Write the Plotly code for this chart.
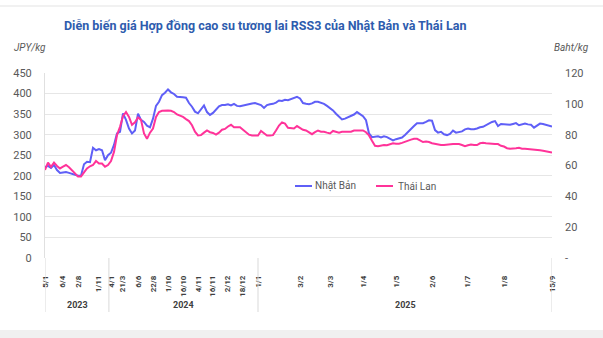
import plotly.graph_objects as go

# Session-by-session prices (one value per plotted session)
japan_jpy = [
    221, 224, 219, 226, 214, 207, 208, 209, 207, 205, 203, 200, 200, 228, 234, 233, 268, 262, 265, 262,
    238, 250, 256, 275, 303, 307, 352, 336, 315, 303, 310, 351, 336, 331, 322, 318, 339, 370, 380, 396,
    402, 410, 403, 399, 392, 392, 391, 390, 377, 368, 356, 352, 362, 371, 355, 348, 353, 362, 369, 372,
    372, 374, 371, 375, 370, 369, 371, 373, 374, 376, 377, 374, 372, 365, 372, 374, 375, 378, 383, 382,
    385, 384, 387, 391, 392, 388, 377, 375, 374, 376, 380, 380, 378, 375, 370, 365, 359, 351, 345, 337,
    339, 342, 345, 349, 355, 351, 345, 335, 303, 294, 295, 296, 293, 296, 294, 289, 286, 289, 291, 293,
    299, 307, 313, 321, 328, 328, 328, 331, 335, 334, 311, 305, 307, 301, 299, 302, 310, 305, 306, 308,
    313, 315, 313, 313, 315, 318, 319, 323, 328, 331, 333, 321, 326, 325, 325, 324, 326, 328, 323, 325,
    327, 325, 324, 317, 322, 327, 326, 324, 322, 320,
]
thai_baht = [
    57.1, 61.9, 59.2, 61.9, 59.7, 58.1, 59.2, 60.3, 58.9, 57.1, 54.9, 52.8, 52.8, 55.5, 58.1, 59.5, 60.3, 62.9, 61.3, 61.3,
    59.2, 60.3, 62.9, 68.8, 79.7, 85.1, 92.0, 94.7, 91.5, 86.4, 88.0, 91.2, 89.6, 80.8, 77.3, 81.3, 84.0, 91.5, 94.7, 95.5,
    95.7, 95.7, 95.5, 94.7, 93.1, 92.3, 91.5, 90.1, 88.8, 86.1, 81.9, 79.5, 79.7, 81.3, 82.7, 81.6, 81.1, 80.0, 81.3, 83.2,
    83.7, 85.3, 86.4, 84.8, 84.8, 84.8, 83.2, 81.6, 80.0, 79.5, 79.7, 79.5, 82.4, 81.1, 79.5, 79.5, 79.7, 82.7, 85.9, 88.0,
    87.2, 84.5, 84.0, 84.0, 85.6, 84.5, 83.2, 82.7, 81.6, 80.3, 81.6, 82.7, 81.9, 81.9, 81.3, 80.8, 82.4, 81.9, 81.3, 81.9,
    81.9, 81.9, 81.9, 82.7, 82.7, 82.9, 82.7, 81.6, 79.5, 76.0, 72.8, 72.5, 72.8, 73.3, 73.1, 73.6, 74.4, 74.1, 74.1, 74.7,
    75.5, 76.5, 76.8, 77.3, 77.3, 76.3, 75.2, 75.5, 75.2, 74.4, 73.9, 73.3, 73.3, 73.3, 73.6, 73.6, 73.9, 73.9, 73.9, 73.3,
    72.5, 73.1, 73.6, 73.3, 73.3, 74.4, 74.7, 74.4, 74.1, 74.1, 73.9, 73.9, 72.8, 72.3, 71.2, 70.9, 70.9, 71.2, 71.5, 70.9,
    70.9, 70.7, 70.7, 70.7, 70.1, 69.9, 69.6, 69.3, 68.8, 68.5,
]

# Date labels and the session they fall on
tick_sessions = [0.3, 5.7, 11, 17.7, 22, 25.7, 31, 36, 41, 46, 51, 55.7, 60.7, 65.7, 71.3,
                 85, 95.3, 106.3, 117.3, 129.3, 140.7, 153.3, 169]
tick_labels = ["5/1", "6/4", "2/8", "1/11", "4/1", "21/3", "6/6", "22/8", "1/10", "16/10", "4/11",
               "16/11", "2/12", "18/12", "1/1", "3/2", "3/3", "1/4", "1/5", "2/6", "1/7", "1/8", "15/9"]

# Year groups: boundaries and label centres
year_labels = ["2023", "2024", "2025"]
year_centres = [10.7, 46, 120]
year_bounds = [0, 21.3, 71, 169]

left_ticks = list(range(0, 451, 50))
right_ticks = list(range(0, 121, 20))
right_ticktext = ["-"] + [str(v) for v in right_ticks[1:]]

BLUE = "#5f5ff7"
PINK = "#ff3399"
GRAY = "#595959"
FONT = "Roboto"

x_jp = list(range(len(japan_jpy)))
x_th = list(range(len(thai_baht)))

fig = go.Figure()
fig.add_trace(go.Scatter(x=x_jp, y=japan_jpy, mode="lines", name="Nhật Bản",
                         line=dict(color=BLUE, width=2), yaxis="y"))
fig.add_trace(go.Scatter(x=x_th, y=thai_baht, mode="lines", name="Thái Lan",
                         line=dict(color=PINK, width=2), yaxis="y2"))

W, H = 603, 338
ML, MR, MT, MB = 45, 51, 73, 80
pw, ph = W - ML - MR, H - MT - MB


def px_x(px):
    return (px - ML) / pw


def px_y(py):
    return 1 - (py - MT) / ph


shapes = []
# year group separators below the axis
for b in year_bounds:
    shapes.append(dict(type="line", xref="x", yref="paper", x0=b, x1=b,
                       y0=0, y1=px_y(312), line=dict(color="#d9d9d9", width=1)))
# custom legend swatches
for x0, col in [(295, BLUE), (376, PINK)]:
    shapes.append(dict(type="line", xref="paper", yref="paper", x0=px_x(x0), x1=px_x(x0 + 17),
                       y0=px_y(186), y1=px_y(186), line=dict(color=col, width=2)))
# frame details: top rule and bottom band
shapes.append(dict(type="line", xref="paper", yref="paper", x0=px_x(0), x1=px_x(W),
                   y0=px_y(6), y1=px_y(6), line=dict(color="#e3e3e3", width=1)))
shapes.append(dict(type="rect", xref="paper", yref="paper", x0=px_x(0), x1=px_x(W),
                   y0=px_y(330), y1=px_y(H), line=dict(width=0), fillcolor="#f0f0f0", layer="below"))

annotations = []
for lab, c in zip(year_labels, year_centres):
    annotations.append(dict(text=lab, x=c, xref="x", y=px_y(305), yref="paper", showarrow=False,
                            font=dict(family=FONT, size=9, color="#404040", weight="bold"),
                            xanchor="center", yanchor="middle"))
for txt, x0 in [("Nhật Bản", 313), ("Thái Lan", 396)]:
    annotations.append(dict(text=txt, x=px_x(x0), xref="paper", y=px_y(186), yref="paper",
                            showarrow=False, xanchor="left", yanchor="middle",
                            font=dict(family=FONT, size=10, color=GRAY)))
annotations.append(dict(text="<i>JPY/kg</i>", x=px_x(12), xref="paper", y=px_y(47), yref="paper",
                        showarrow=False, xanchor="left", yanchor="middle",
                        font=dict(family=FONT, size=10, color=GRAY)))
annotations.append(dict(text="<i>Baht/kg</i>", x=px_x(552), xref="paper", y=px_y(47), yref="paper",
                        showarrow=False, xanchor="left", yanchor="middle",
                        font=dict(family=FONT, size=10, color=GRAY)))
annotations.append(dict(text="<b>Diễn biến giá Hợp đồng cao su tương lai RSS3 của Nhật Bản và Thái Lan</b>",
                        x=px_x(265), xref="paper", y=px_y(25), yref="paper", showarrow=False,
                        xanchor="center", yanchor="middle",
                        font=dict(family=FONT, size=12.5, color="#2e5cae")))

fig.update_layout(
    width=W, height=H,
    margin=dict(l=ML, r=MR, t=MT, b=MB, pad=0),
    paper_bgcolor="white", plot_bgcolor="white",
    showlegend=False,
    font=dict(family=FONT, color=GRAY),
    xaxis=dict(range=[0, 169], tickvals=tick_sessions, ticktext=tick_labels, tickangle=-90,
               showgrid=False, zeroline=False, showline=False, ticks="",
               ticklabelstandoff=15,
               tickfont=dict(family=FONT, size=8, color="#404040", weight="bold")),
    yaxis=dict(range=[0, 450], tickvals=left_ticks, showgrid=True, gridcolor="#e6e6e6",
               zeroline=False, showline=True, linecolor="#e0e0e0", ticks="",
               ticklabelstandoff=10, tickfont=dict(family=FONT, size=11, color=GRAY)),
    yaxis2=dict(range=[0, 120], tickvals=right_ticks, ticktext=right_ticktext, overlaying="y",
                side="right", showgrid=False, zeroline=False, showline=False, ticks="",
                ticklabelstandoff=12, tickfont=dict(family=FONT, size=11, color=GRAY)),
    shapes=shapes,
    annotations=annotations,
)

fig.write_html("out.html")
